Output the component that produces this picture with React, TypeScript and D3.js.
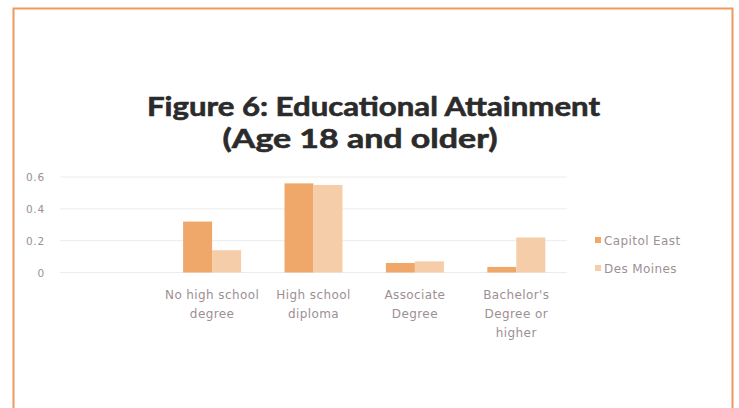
import React from "react";
import * as d3 from "d3";

const categories = ["", "No high school degree", "High school diploma", "Associate Degree", "Bachelor's Degree or higher"];
const categoryLines = [[], ["No high school", "degree"], ["High school", "diploma"], ["Associate", "Degree"], ["Bachelor's", "Degree or", "higher"]];
const seriesNames = ["Capitol East", "Des Moines"];
const capitolEast = [null, 0.32, 0.56, 0.06, 0.035];
const desMoines = [null, 0.14, 0.55, 0.07, 0.22];
const yTicks = [0, 0.2, 0.4, 0.6];
const yTickLabels = ["0", "0.2", "0.4", "0.6"];

const W = 739;
const H = 408;
const colors = ["#EFA86A", "#F6CDA9"];
const textColor = "#9d8f94";
const labelFont = "'DejaVu Sans', sans-serif";

export default function App() {
  const x = d3.scaleBand<string>().domain(categories).range([60, 567]).paddingInner(0).paddingOuter(0);
  const y = d3.scaleLinear().domain([0, 0.6]).range([272.5, 177]);
  const barW = 29;
  const series = [capitolEast, desMoines];

  return (
    <svg width={W} height={H} style={{ position: "absolute", left: 0, top: 0, background: "#fff" }}>
      <rect x={0} y={0} width={W} height={H} fill="#fff" />
      <path d={`M13.5,${H + 2} V8.5 H732.5 V${H + 2}`} fill="none" stroke="#EE9A5C" strokeWidth={2} />
      <g fontFamily="Lato, 'Open Sans', sans-serif" fontWeight="bold" fill="#2b2b2b" textAnchor="middle">
        <text x={373.5} y={116} fontSize={27} textLength={453} lengthAdjust="spacingAndGlyphs" stroke="#2b2b2b" strokeWidth={0.6}>
          Figure 6: Educational Attainment
        </text>
        <text x={360} y={148} fontSize={27} textLength={275} lengthAdjust="spacingAndGlyphs" stroke="#2b2b2b" strokeWidth={0.6}>
          (Age 18 and older)
        </text>
      </g>
      {yTicks.map((t, i) => (
        <g key={i}>
          <line x1={60} x2={567} y1={y(t)} y2={y(t)} stroke="#ececec" strokeWidth={1} />
          <text x={45} y={y(t) + 4} fontSize={10.5} fill={textColor} textAnchor="end" fontFamily={labelFont} letterSpacing={0.8}>
            {yTickLabels[i]}
          </text>
        </g>
      ))}
      {categories.map((c, ci) => {
        const cx = (x(c) as number) + x.bandwidth() / 2;
        return (
          <g key={ci}>
            {series.map((s, si) => {
              const v = s[ci];
              if (v == null) return null;
              const bx = cx - barW + si * barW;
              return <rect key={si} x={bx} y={y(v)} width={barW} height={y(0) - y(v)} fill={colors[si]} />;
            })}
            {categoryLines[ci].map((ln, li) => (
              <text key={li} x={cx} y={299 + li * 19} fontSize={12} letterSpacing={0.4} fill={textColor} textAnchor="middle" fontFamily={labelFont}>
                {ln}
              </text>
            ))}
          </g>
        );
      })}
      {seriesNames.map((n, i) => (
        <g key={n}>
          <rect x={595} y={237 + i * 28} width={6} height={6} fill={colors[i]} />
          <text x={604} y={245 + i * 28} fontSize={12} letterSpacing={0.4} fill={textColor} fontFamily={labelFont}>{n}</text>
        </g>
      ))}
    </svg>
  );
}
